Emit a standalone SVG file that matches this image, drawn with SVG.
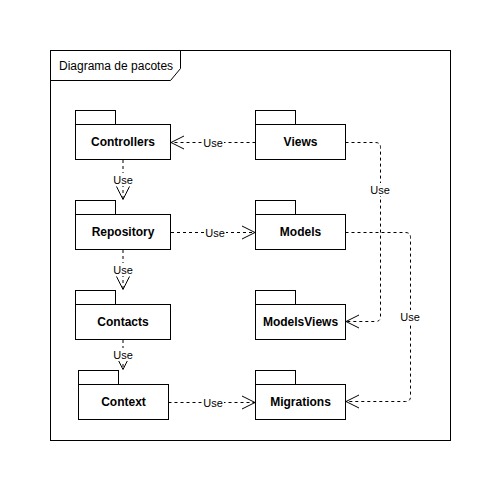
<svg xmlns="http://www.w3.org/2000/svg" width="501" height="491" viewBox="0 0 501 491">
<style>
.box{fill:#fff;stroke:#000;stroke-width:1}
.name{font-family:"Liberation Sans",Arial,sans-serif;font-size:12px;font-weight:bold;fill:#000;text-anchor:middle;dominant-baseline:central}
.lbl{font-family:"Liberation Sans",Arial,sans-serif;font-size:11px;fill:#000;text-anchor:middle;dominant-baseline:central}
.lblbg{fill:#fff;stroke:none}
.dep{fill:none;stroke:#000;stroke-width:1;stroke-dasharray:3 3;marker-end:url(#open)}
</style>
<defs>
<marker id="open" markerUnits="userSpaceOnUse" markerWidth="30" markerHeight="30" refX="0" refY="0" viewBox="-15 -15 30 30" orient="auto" overflow="visible">
<path d="M-13,-6.5 L0,0 L-13,6.5" fill="none" stroke="#000" stroke-width="1" stroke-dasharray="none"/>
</marker>
</defs>
<rect width="501" height="491" fill="#fff"/>
<g id="frame">
<rect x="50.5" y="50.5" width="400" height="390" fill="none" stroke="#000"/>
<path d="M50.5,80.5 H170.5 L180.5,68.5 V50.5" fill="none" stroke="#000"/>
<text x="59" y="65.5" font-family="'Liberation Sans',Arial,sans-serif" font-size="12" dominant-baseline="central">Diagrama de pacotes</text>
</g>
<g id="connectors">
<path class="dep" d="M255.5,142.5 H171"/>
<path class="dep" d="M123,160 V199.5"/>
<path class="dep" d="M171,232.5 H255"/>
<path class="dep" d="M123,250 V289.5"/>
<path class="dep" d="M123,340 V369.5"/>
<path class="dep" d="M168.5,402.5 H255"/>
<path class="dep" d="M345.5,142.5 H375.5 Q380.5,142.5 380.5,147.5 V316.5 Q380.5,321.5 375.5,321.5 H346"/>
<path class="dep" d="M345.5,232.5 H405.5 Q410.5,232.5 410.5,237.5 V396.5 Q410.5,401.5 405.5,401.5 H346"/>
<g id="labels">
<rect class="lblbg" x="202" y="136" width="22" height="13"/><text class="lbl" x="213" y="142.5">Use</text>
<rect class="lblbg" x="112" y="173" width="22" height="13"/><text class="lbl" x="123" y="180">Use</text>
<rect class="lblbg" x="204" y="226" width="22" height="13"/><text class="lbl" x="215" y="232.5">Use</text>
<rect class="lblbg" x="112" y="263" width="22" height="13"/><text class="lbl" x="123" y="270">Use</text>
<rect class="lblbg" x="112" y="348" width="22" height="13"/><text class="lbl" x="123" y="355">Use</text>
<rect class="lblbg" x="202" y="396" width="22" height="13"/><text class="lbl" x="213" y="402.5">Use</text>
<rect class="lblbg" x="369" y="183" width="22" height="13"/><text class="lbl" x="380" y="189.5">Use</text>
<rect class="lblbg" x="399" y="310" width="22" height="13"/><text class="lbl" x="410" y="317">Use</text>
</g>
</g>
<g id="controllers">
<rect class="box" x="75.5" y="110.5" width="40" height="14"/>
<rect class="box" x="75.5" y="124.5" width="95" height="35"/>
<text class="name" x="123" y="142">Controllers</text>
</g>
<g id="views">
<rect class="box" x="255.5" y="110.5" width="40" height="14"/>
<rect class="box" x="255.5" y="124.5" width="90" height="35"/>
<text class="name" x="300.5" y="142">Views</text>
</g>
<g id="repository">
<rect class="box" x="75.5" y="200.5" width="40" height="14"/>
<rect class="box" x="75.5" y="214.5" width="95" height="35"/>
<text class="name" x="123" y="232">Repository</text>
</g>
<g id="models">
<rect class="box" x="255.5" y="200.5" width="40" height="14"/>
<rect class="box" x="255.5" y="214.5" width="90" height="35"/>
<text class="name" x="300.5" y="232">Models</text>
</g>
<g id="contacts">
<rect class="box" x="75.5" y="290.5" width="40" height="14"/>
<rect class="box" x="75.5" y="304.5" width="95" height="35"/>
<text class="name" x="123" y="322">Contacts</text>
</g>
<g id="modelsviews">
<rect class="box" x="255.5" y="290.5" width="40" height="14"/>
<rect class="box" x="255.5" y="304.5" width="90" height="35"/>
<text class="name" x="300.5" y="322">ModelsViews</text>
</g>
<g id="context">
<rect class="box" x="78.5" y="370.5" width="40" height="14"/>
<rect class="box" x="78.5" y="384.5" width="90" height="35"/>
<text class="name" x="123.5" y="402">Context</text>
</g>
<g id="migrations">
<rect class="box" x="255.5" y="370.5" width="40" height="14"/>
<rect class="box" x="255.5" y="384.5" width="90" height="35"/>
<text class="name" x="300.5" y="402">Migrations</text>
</g>
</svg>
